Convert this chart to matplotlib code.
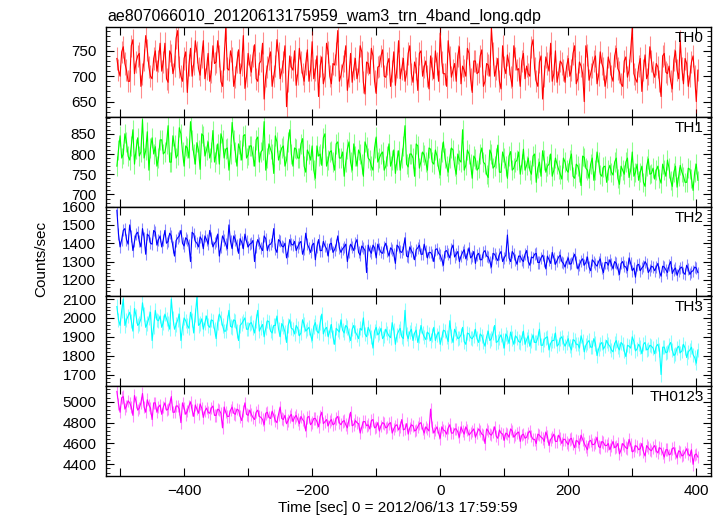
import numpy as np
import matplotlib
matplotlib.use('Agg')
import matplotlib.pyplot as plt
from matplotlib.ticker import MultipleLocator, AutoMinorLocator

plt.rcParams['font.family'] = ['Liberation Sans', 'DejaVu Sans']
plt.rcParams['font.size'] = 11

title = 'ae807066010_20120613175959_wam3_trn_4band_long.qdp'
xlabel = 'Time [sec] 0 = 2012/06/13 17:59:59'
ylabel = 'Counts/sec'
names = ['TH0', 'TH1', 'TH2', 'TH3', 'TH0123']
colors = ['#ff0000', '#00ff00', '#0000ff', '#00ffff', '#ff00ff']

# time grid: 2.5 s bins; "_a" lists are the bins at -505, -500, ...,
# "_b" lists the bins in between (-502.5, -497.5, ...)
t_start, t_step = -505, 2.5

th0_a = [735, 700, 758, 712, 690, 772, 728, 745, 705, 780, 718, 695, 750, 730,
         710, 765, 688, 742, 720, 790, 700, 735, 668, 755, 725, 748, 702, 770,
         715, 690, 760, 728, 740, 680, 795, 712, 735, 698, 752, 722, 676, 745,
         708, 762, 690, 730, 655, 718, 748, 700, 772, 695, 728, 640, 740, 712,
         682, 755, 705, 725, 690, 768, 712, 660, 738, 700, 748, 685, 722, 790,
         702, 730, 672, 745, 715, 695, 760, 688, 728, 705, 740, 666, 720, 752,
         698, 735, 710, 682, 770, 715, 690, 745, 705, 728, 672, 750, 718, 700,
         740, 695, 725, 785, 705, 680, 738, 712, 690, 758, 720, 700, 745, 668,
         730, 708, 752, 690, 722, 795, 700, 735, 675, 718, 742, 698, 760, 712,
         680, 745, 720, 700, 772, 690, 728, 655, 738, 710, 690, 750, 705, 725,
         688, 735, 712, 760, 695, 720, 650, 742, 705, 730, 685, 748, 715, 698,
         725, 690, 755, 708, 680, 738, 712, 795, 695, 720, 670, 742, 705, 730,
         698, 718, 660, 745, 705, 690, 732, 712, 770, 685, 725, 700, 740, 650]
th0_b = [712, 748, 725, 690, 760, 705, 740, 680, 732, 752, 700, 735, 710, 765,
         728, 695, 750, 705, 775, 718, 690, 748, 722, 700, 770, 715, 738, 695,
         745, 708, 725, 770, 690, 735, 715, 750, 680, 728, 705, 780, 700, 722,
         740, 695, 725, 765, 700, 735, 680, 720, 745, 710, 760, 690, 718, 750,
         705, 728, 690, 752, 712, 695, 740, 720, 685, 765, 700, 725, 745, 690,
         720, 760, 700, 688, 735, 710, 748, 665, 725, 755, 690, 718, 740, 700,
         725, 680, 748, 718, 695, 735, 705, 760, 688, 715, 745, 700, 730, 675,
         715, 750, 690, 728, 705, 770, 698, 725, 740, 685, 712, 755, 695, 730,
         705, 740, 680, 725, 700, 745, 715, 690, 760, 705, 725, 680, 735, 715,
         730, 695, 705, 758, 715, 680, 740, 700, 725, 765, 705, 688, 730, 712,
         720, 700, 745, 685, 728, 705, 760, 692, 718, 740, 702, 725, 680, 738,
         700, 740, 715, 685, 730, 698, 750, 705, 688, 735, 712, 695, 758, 708,
         725, 690, 740, 708, 720, 675, 750, 695, 715, 735, 680, 728, 700, 712]

th1_a = [770, 845, 800, 830, 785, 860, 812, 795, 885, 808, 760, 840, 818, 790,
         835, 805, 870, 780, 822, 798, 850, 770, 815, 880, 800, 828, 762, 845,
         810, 790, 858, 800, 775, 835, 812, 760, 878, 805, 825, 785, 848, 798,
         820, 770, 842, 805, 880, 790, 812, 752, 830, 800, 820, 785, 860, 770,
         812, 790, 838, 755, 800, 820, 740, 795, 772, 850, 785, 808, 760, 830,
         790, 745, 812, 780, 825, 770, 800, 745, 818, 785, 760, 842, 790, 805,
         770, 825, 785, 752, 808, 790, 870, 768, 800, 745, 820, 782, 798, 760,
         812, 775, 795, 748, 830, 770, 790, 810, 750, 785, 860, 772, 800, 740,
         788, 765, 815, 775, 742, 800, 770, 822, 755, 790, 740, 806, 765, 785,
         750, 812, 772, 760, 795, 730, 780, 808, 755, 775, 745, 790, 762, 738,
         780, 755, 800, 740, 770, 722, 792, 760, 775, 735, 805, 750, 768, 730,
         772, 748, 790, 725, 760, 780, 742, 805, 755, 735, 770, 720, 788, 752,
         738, 770, 728, 760, 785, 735, 755, 718, 772, 745, 730, 762, 710, 775]
th1_b = [810, 790, 850, 795, 820, 775, 840, 805, 790, 855, 815, 800, 770, 835,
         800, 825, 780, 845, 790, 865, 805, 820, 790, 835, 775, 810, 850, 795,
         830, 805, 780, 825, 850, 790, 815, 800, 835, 770, 810, 845, 790, 820,
         795, 835, 780, 810, 760, 825, 800, 845, 785, 815, 770, 830, 800, 815,
         790, 825, 770, 810, 785, 760, 820, 800, 840, 770, 805, 780, 825, 790,
         805, 780, 830, 760, 795, 810, 775, 830, 790, 770, 815, 780, 800, 760,
         795, 770, 810, 785, 760, 820, 775, 800, 790, 825, 765, 805, 780, 815,
         780, 810, 765, 805, 790, 755, 815, 770, 800, 780, 760, 810, 775, 795,
         760, 800, 780, 750, 810, 765, 790, 755, 805, 770, 795, 760, 780, 805,
         775, 760, 790, 750, 800, 765, 745, 785, 770, 800, 760, 775, 750, 790,
         760, 785, 745, 775, 755, 795, 765, 740, 790, 760, 780, 745, 770, 760,
         755, 780, 740, 770, 750, 790, 760, 745, 775, 755, 730, 770, 750, 765,
         760, 740, 775, 745, 765, 720, 770, 745, 755, 730, 765, 740, 755, 735]

th2_a = [1580, 1380, 1470, 1420, 1500, 1360, 1450, 1410, 1480, 1340, 1440, 1395, 1460, 1420,
         1380, 1470, 1410, 1440, 1330, 1430, 1470, 1385, 1420, 1300, 1450, 1400, 1435, 1370,
         1420, 1470, 1380, 1410, 1330, 1440, 1395, 1500, 1370, 1420, 1345, 1405, 1450, 1380,
         1400, 1300, 1420, 1375, 1440, 1360, 1395, 1480, 1350, 1410, 1380, 1320, 1420, 1390,
         1360, 1400, 1340, 1455, 1375, 1390, 1310, 1420, 1360, 1385, 1330, 1400, 1365, 1440,
         1350, 1380, 1300, 1395, 1360, 1420, 1335, 1375, 1240, 1360, 1390, 1320, 1370, 1345,
         1400, 1330, 1365, 1290, 1380, 1350, 1430, 1325, 1360, 1310, 1375, 1340, 1395, 1320,
         1350, 1300, 1370, 1335, 1280, 1360, 1320, 1390, 1340, 1300, 1350, 1315, 1375, 1330,
         1290, 1345, 1310, 1360, 1325, 1270, 1340, 1305, 1355, 1320, 1445, 1300, 1340, 1285,
         1330, 1300, 1360, 1280, 1320, 1345, 1295, 1335, 1260, 1310, 1350, 1285, 1325, 1300,
         1270, 1320, 1290, 1340, 1260, 1305, 1280, 1325, 1250, 1300, 1275, 1315, 1240, 1295,
         1310, 1260, 1290, 1230, 1300, 1270, 1320, 1250, 1215, 1285, 1265, 1300, 1240, 1275,
         1250, 1290, 1220, 1270, 1240, 1300, 1255, 1225, 1265, 1240, 1280, 1230, 1250, 1265]
th2_b = [1450, 1420, 1480, 1395, 1440, 1410, 1460, 1380, 1430, 1450, 1400, 1470, 1390, 1440,
         1420, 1400, 1455, 1380, 1415, 1440, 1400, 1430, 1390, 1460, 1410, 1380, 1420, 1440,
         1395, 1430, 1400, 1450, 1380, 1420, 1370, 1410, 1440, 1390, 1425, 1370, 1410, 1395,
         1415, 1380, 1400, 1360, 1425, 1390, 1410, 1370, 1420, 1385, 1400, 1360, 1395, 1410,
         1380, 1410, 1370, 1395, 1350, 1400, 1380, 1360, 1410, 1370, 1395, 1350, 1390, 1375,
         1370, 1395, 1355, 1380, 1400, 1350, 1385, 1360, 1390, 1345, 1375, 1395, 1350, 1380,
         1360, 1375, 1340, 1390, 1355, 1370, 1330, 1380, 1345, 1365, 1390, 1340, 1360, 1350,
         1335, 1365, 1345, 1310, 1355, 1340, 1370, 1325, 1355, 1330, 1365, 1340, 1320, 1355,
         1335, 1310, 1350, 1330, 1300, 1345, 1320, 1340, 1300, 1335, 1320, 1355, 1310, 1330,
         1310, 1340, 1300, 1325, 1340, 1295, 1320, 1305, 1330, 1290, 1320, 1305, 1335, 1290,
         1300, 1285, 1320, 1300, 1280, 1315, 1295, 1270, 1310, 1285, 1300, 1265, 1295, 1280,
         1285, 1300, 1260, 1290, 1275, 1250, 1290, 1265, 1280, 1250, 1275, 1285, 1255, 1270,
         1270, 1245, 1275, 1255, 1280, 1235, 1265, 1250, 1270, 1230, 1260, 1245, 1270, 1240]

th3_a = [2060, 1960, 2100, 1990, 2030, 1930, 2010, 1970, 2080, 1950, 2000, 1880, 2040, 1985,
         1950, 2020, 1970, 2100, 1940, 1990, 1880, 2000, 1960, 2030, 1920, 2110, 1970, 1940,
         2010, 1950, 1985, 1890, 2020, 1960, 1930, 2040, 1950, 1985, 1880, 1970, 2000, 1940,
         1975, 1920, 2040, 1950, 1900, 1985, 1930, 1960, 2010, 1900, 1955, 1870, 1990, 1940,
         1960, 1905, 1990, 1930, 1950, 1880, 1975, 1920, 2020, 1940, 1900, 1965, 1860, 1935,
         1990, 1920, 1950, 1880, 1960, 1910, 1945, 2000, 1900, 1930, 1840, 1950, 1920, 1890,
         1940, 1905, 1975, 1860, 1930, 1900, 2040, 1890, 1940, 1920, 1870, 1960, 1900, 1925,
         1880, 1950, 1910, 1860, 1935, 1900, 1985, 1870, 1920, 1895, 1950, 1860, 1915, 1890,
         1940, 1870, 1905, 1850, 1930, 1890, 1960, 1875, 1910, 1840, 1900, 1925, 1860, 1895,
         1870, 1930, 1885, 1850, 1910, 1870, 1940, 1855, 1895, 1830, 1880, 1920, 1860, 1900,
         1850, 1890, 1830, 1880, 1860, 1905, 1820, 1870, 1845, 1890, 1800, 1860, 1835, 1880,
         1850, 1820, 1880, 1830, 1860, 1795, 1850, 1900, 1825, 1860, 1810, 1870, 1835, 1850,
         1810, 1860, 1700, 1845, 1820, 1870, 1800, 1840, 1815, 1860, 1790, 1830, 1805, 1760]
th3_b = [1990, 2040, 1960, 2010, 1985, 2050, 1960, 1995, 2020, 1970, 2030, 1955, 1990, 2010,
         1975, 1995, 1940, 2000, 1965, 2020, 1950, 1985, 1945, 1990, 2015, 1960, 1995, 1975,
         1960, 1990, 1940, 1975, 2000, 1930, 1975, 1955, 1990, 1930, 1960, 1985, 1940, 1970,
         1950, 1985, 1930, 1965, 1945, 1980, 1920, 1960, 1940, 1970, 1925, 1960, 1945, 1915,
         1945, 1920, 1965, 1940, 1910, 1955, 1930, 1975, 1915, 1950, 1930, 1900, 1945, 1925,
         1935, 1960, 1910, 1940, 1925, 1890, 1935, 1915, 1950, 1900, 1930, 1910, 1945, 1905,
         1920, 1895, 1935, 1910, 1945, 1890, 1915, 1925, 1880, 1935, 1905, 1920, 1885, 1915,
         1910, 1880, 1925, 1895, 1930, 1875, 1905, 1940, 1890, 1910, 1875, 1920, 1895, 1905,
         1890, 1915, 1875, 1900, 1880, 1920, 1870, 1895, 1880, 1915, 1865, 1890, 1905, 1875,
         1895, 1860, 1905, 1880, 1870, 1895, 1855, 1885, 1900, 1865, 1880, 1850, 1890, 1870,
         1870, 1850, 1885, 1860, 1840, 1875, 1855, 1880, 1845, 1865, 1835, 1870, 1850, 1860,
         1830, 1865, 1845, 1870, 1825, 1855, 1840, 1875, 1835, 1845, 1860, 1830, 1855, 1840,
         1850, 1830, 1845, 1815, 1855, 1830, 1810, 1850, 1825, 1840, 1820, 1845, 1790, 1830]

th0123_a = [5100, 4900, 5050, 4960, 4990, 4870, 5000, 4940, 5080, 4900, 4970, 4830, 4990, 4950,
            4880, 4990, 4930, 5050, 4900, 4960, 4800, 4940, 4910, 5000, 4860, 4930, 4980, 4850,
            4940, 4890, 4960, 4870, 4920, 4750, 4900, 4860, 4950, 4880, 4920, 4820, 4990, 4870,
            4880, 4830, 4920, 4850, 4780, 4900, 4840, 4870, 4800, 4950, 4830, 4790, 4860, 4810,
            4870, 4790, 4830, 4720, 4860, 4800, 4840, 4760, 4900, 4810, 4770, 4830, 4790, 4860,
            4780, 4820, 4750, 4900, 4780, 4800, 4700, 4810, 4770, 4740, 4830, 4760, 4720, 4800,
            4750, 4790, 4700, 4770, 4730, 4830, 4740, 4690, 4780, 4720, 4760, 4800, 4700, 4740,
            4930, 4700, 4760, 4650, 4730, 4690, 4780, 4700, 4740, 4660, 4720, 4760, 4680, 4720,
            4660, 4740, 4690, 4600, 4720, 4680, 4760, 4650, 4700, 4630, 4690, 4740, 4660, 4700,
            4620, 4690, 4660, 4720, 4640, 4600, 4680, 4650, 4710, 4580, 4660, 4620, 4680, 4600,
            4640, 4590, 4650, 4560, 4620, 4680, 4600, 4540, 4630, 4590, 4660, 4560, 4610, 4580,
            4540, 4620, 4570, 4500, 4600, 4560, 4640, 4520, 4580, 4540, 4600, 4480, 4560, 4530,
            4580, 4510, 4550, 4470, 4540, 4500, 4560, 4460, 4520, 4490, 4550, 4480, 4400, 4500]
th0123_b = [4980, 5040, 4930, 5010, 4950, 5060, 4920, 4990, 4950, 5020, 4940, 4990, 4900, 4970,
            4950, 4920, 4980, 4900, 4960, 4930, 4990, 4880, 4960, 4920, 4970, 4890, 4940, 4910,
            4900, 4940, 4870, 4930, 4890, 4950, 4860, 4920, 4890, 4930, 4860, 4910, 4880, 4920,
            4850, 4900, 4860, 4830, 4890, 4850, 4910, 4820, 4880, 4840, 4870, 4820, 4880, 4850,
            4830, 4860, 4810, 4850, 4780, 4840, 4810, 4860, 4790, 4830, 4810, 4780, 4840, 4800,
            4810, 4780, 4830, 4770, 4820, 4790, 4760, 4810, 4780, 4820, 4750, 4800, 4770, 4790,
            4760, 4800, 4740, 4780, 4760, 4730, 4790, 4750, 4770, 4730, 4790, 4740, 4760, 4720,
            4760, 4730, 4700, 4760, 4720, 4750, 4700, 4740, 4710, 4760, 4690, 4730, 4700, 4740,
            4700, 4720, 4680, 4740, 4690, 4710, 4670, 4730, 4690, 4700, 4660, 4720, 4680, 4710,
            4680, 4650, 4700, 4670, 4640, 4690, 4660, 4620, 4670, 4640, 4690, 4620, 4650, 4640,
            4610, 4640, 4600, 4630, 4590, 4640, 4570, 4620, 4590, 4610, 4570, 4620, 4580, 4600,
            4580, 4560, 4600, 4540, 4580, 4550, 4590, 4530, 4570, 4550, 4520, 4580, 4540, 4560,
            4530, 4560, 4510, 4540, 4490, 4550, 4510, 4530, 4480, 4520, 4500, 4540, 4490, 4470]

# typical 1-sigma error bar per band
errs = [22, 24, 33, 38, 60]

series = [(th0_a, th0_b), (th1_a, th1_b), (th2_a, th2_b), (th3_a, th3_b), (th0123_a, th0123_b)]
ylims = [(620, 797), (670, 892), (1110, 1600), (1638, 2114), (4288, 5150)]
ysteps = [50, 50, 100, 100, 200]

W, H = 723, 516
fig = plt.figure(figsize=(W / 100, H / 100), dpi=100)

left, right = 106 / W, 711 / W
top, bottom = 27 / H, 476 / H
ph = (bottom - top) / 5

for i in range(5):
    ax = fig.add_axes([left, 1 - top - (i + 1) * ph, right - left, ph])
    a, b = series[i]
    y = np.column_stack([a, b]).ravel()
    t = t_start + t_step * np.arange(len(y))
    ax.errorbar(t, y, yerr=errs[i], fmt='none', ecolor=colors[i], elinewidth=0.8, alpha=0.45)
    ax.plot(t, y, color=colors[i], lw=0.8)
    ax.set_xlim(-522, 423)
    ax.set_ylim(*ylims[i])
    ax.yaxis.set_major_locator(MultipleLocator(ysteps[i]))
    ax.yaxis.set_minor_locator(AutoMinorLocator(5))
    ax.set_xticks(np.arange(-500, 401, 100))
    if i < 4:
        ax.set_xticklabels([])
    else:
        ax.set_xticklabels(['' if v % 200 else str(v).replace('-', '\u2212')
                            for v in range(-500, 401, 100)])
    ax.tick_params(which='both', direction='in', top=True, right=True, labelsize=11)
    ax.tick_params(axis='y', pad=7)
    ax.tick_params(axis='x', pad=6)
    ax.tick_params(which='major', length=6, width=0.8)
    ax.tick_params(which='minor', length=3, width=0.6)
    for s in ax.spines.values():
        s.set_linewidth(1.0)
    ax.text(0.988, 0.955, names[i], transform=ax.transAxes, ha='right', va='top', fontsize=11)

fig.text(107 / W, 1 - 21 / H, title, ha='left', va='baseline', fontsize=11.5)
fig.text(41 / W, 1 - 259 / H, ylabel, rotation=90, ha='center', va='center', fontsize=11)
fig.text(398 / W, 1 - 508 / H, xlabel, ha='center', va='center', fontsize=11)

fig.savefig('out.png', dpi=100)
